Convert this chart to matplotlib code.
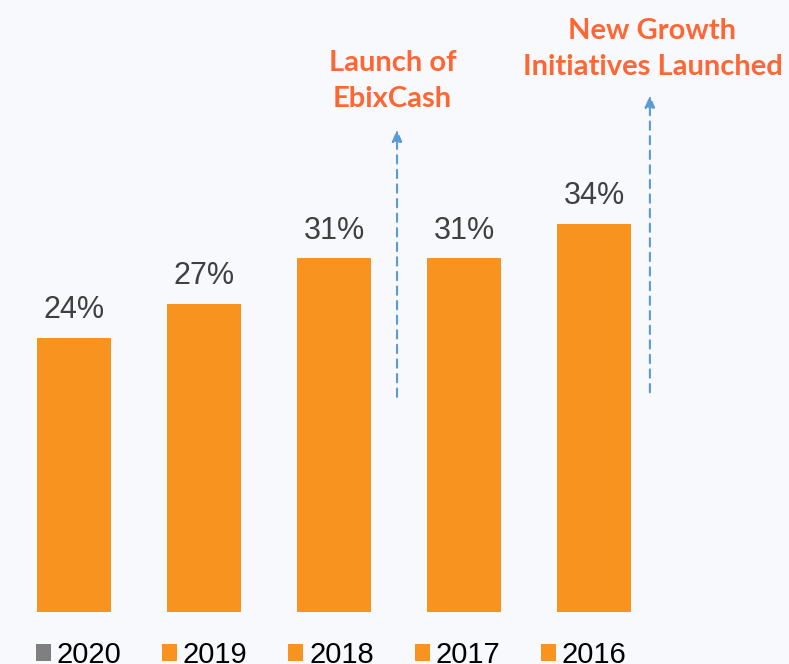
import matplotlib
matplotlib.use('Agg')
import matplotlib.pyplot as plt
from matplotlib.patches import Patch

# --- data ---
years = ['2020', '2019', '2018', '2017', '2016']
values = [24, 27, 31, 31, 34]
bar_labels = ['24%', '27%', '31%', '31%', '34%']
legend_colors = ['#7f7f7f', '#f7931e', '#f7931e', '#f7931e', '#f7931e']

notes = ['Launch of\nEbixCash', 'New Growth\nInitiatives Launched']
note_xy = [(2.45, 46.5), (4.45, 49.3)]
arrow_x = [2.485, 4.43]
arrow_from = [18.6, 19.0]
arrow_to = [42.5, 45.5]

orange = '#f7931e'
note_color = '#ff6633'
arrow_color = '#5b9bd5'

fig = plt.figure(figsize=(7.89, 6.64), dpi=100)
fig.patch.set_facecolor('#f7f9fc')
ax = fig.add_axes([0, 0, 1, 1])
ax.set_facecolor('#f7f9fc')

x = list(range(len(values)))
bars = ax.bar(x, values, width=0.57, color=orange)
ax.bar_label(bars, labels=bar_labels, padding=9, fontsize=22,
             color='#404040', family='Liberation Sans')

# dashed arrows + notes
for ax_x, y0, y1 in zip(arrow_x, arrow_from, arrow_to):
    ax.annotate('', xy=(ax_x, y1), xytext=(ax_x, y0),
                arrowprops=dict(arrowstyle='-|>,head_length=0.7,head_width=0.3',
                                linestyle=(0, (4, 3)), color=arrow_color, lw=1.5))
for txt, (tx, ty) in zip(notes, note_xy):
    ax.text(tx, ty, txt, ha='center', va='center', fontsize=21,
            family='Lato', fontweight='bold', color=note_color, linespacing=1.5)

ax.set_xlim(-0.569, 5.5)
ax.set_ylim(-4.55, 53.6)
ax.axis('off')

handles = [Patch(facecolor=c, edgecolor='none') for c in legend_colors]
fig.legend(handles, years, loc='center left', bbox_to_anchor=(36 / 789, 0.014),
           ncol=5, frameon=False, borderpad=0, borderaxespad=0,
           prop={'family': 'Liberation Sans', 'size': 21},
           handlelength=0.51, handleheight=0.51, handletextpad=0.2,
           columnspacing=1.4)

fig.savefig('out.png', dpi=100, facecolor=fig.get_facecolor())
